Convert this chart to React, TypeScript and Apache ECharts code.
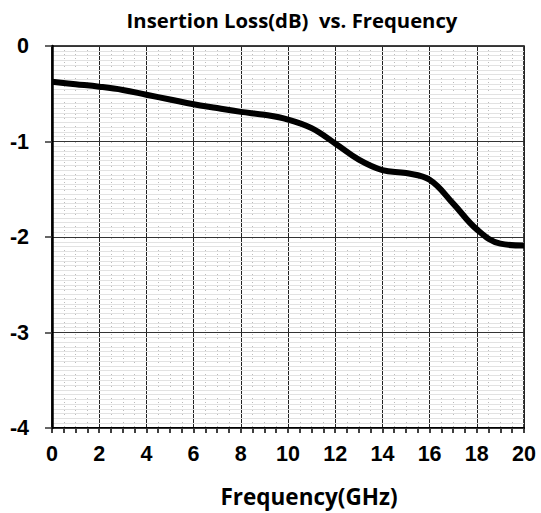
import React, { useEffect, useRef } from "react";
import * as echarts from "echarts";

const freqGHz = [0, 1, 2, 3, 4, 5, 6, 7, 8, 9, 10, 11, 12, 13, 14, 15, 16, 17, 18, 19, 20];
const lossDb = [-0.374, -0.4, -0.426, -0.46, -0.51, -0.56, -0.61, -0.65, -0.69, -0.72, -0.77, -0.86, -1.02, -1.19, -1.3, -1.33, -1.4, -1.65, -1.92, -2.07, -2.09];
const titleText = "Insertion Loss(dB)  vs. Frequency";
const xName = "Frequency(GHz)";

export default function App() {
  const ref = useRef<HTMLDivElement>(null);
  useEffect(() => {
    if (!ref.current) return;
    const chart = echarts.init(ref.current, undefined, { renderer: "svg" });
    const labelFont = {
      fontFamily: "Liberation Sans, Arial, sans-serif",
      fontWeight: "bold" as const,
      fontSize: 21.5,
      color: "#000",
    };
    chart.setOption({
      animation: false,
      backgroundColor: "#fff",
      title: {
        text: titleText,
        left: 287,
        textAlign: "center",
        top: 5,
        textStyle: { fontFamily: "Open Sans", fontWeight: "bold", fontSize: 20.3, color: "#000" },
      },
      graphic: [
        {
          type: "text",
          x: 309,
          y: 496,
          style: {
            text: xName,
            fontFamily: "Open Sans",
            fontWeight: "bold",
            fontSize: 22.5,
            fill: "#000",
            textAlign: "center",
            textVerticalAlign: "middle",
          },
        },
      ],
      grid: {
        left: 52,
        right: 17,
        top: 46,
        bottom: 85,
        show: true,
        borderColor: "#000",
        borderWidth: 1.5,
        backgroundColor: "transparent",
      },
      xAxis: {
        type: "value",
        min: 0,
        max: 20,
        interval: 2,
        axisLine: { show: true, onZero: false, lineStyle: { color: "#000", width: 2 } },
        axisTick: { show: true, length: 5, lineStyle: { color: "#000", width: 1.5 } },
        minorTick: { show: true, splitNumber: 4, length: 5, lineStyle: { color: "#000", width: 1.5 } },
        splitLine: { show: true, lineStyle: { color: "#222", width: 1 } },
        minorSplitLine: { show: true, lineStyle: { color: "#bbb", width: 1, type: [1, 3] } },
        axisLabel: { ...labelFont, margin: 15 },
      },
      yAxis: [
        {
          type: "value",
          min: -4,
          max: 0,
          interval: 1,
          z: 1,
          axisLine: { show: true, onZero: false, lineStyle: { color: "#000", width: 2.5 } },
          axisTick: { show: true, length: 7, lineStyle: { color: "#333", width: 1.5 } },
          minorTick: { show: false, splitNumber: 20 },
          splitLine: { show: true, lineStyle: { color: "#333", width: 1 } },
          minorSplitLine: { show: true, lineStyle: { color: "#e2e2e2", width: 1 } },
          axisLabel: { ...labelFont, margin: 23 },
        },
        {
          type: "value",
          min: -4,
          max: 0,
          interval: 0.1,
          z: 0,
          position: "left",
          axisLine: { show: false },
          axisTick: { show: false },
          axisLabel: { show: false },
          splitLine: { show: true, lineStyle: { color: "#bdbdbd", width: 1 } },
        },
      ],
      series: [
        {
          type: "line",
          yAxisIndex: 0,
          data: freqGHz.map((f, i) => [f, lossDb[i]]),
          smooth: 0.4,
          showSymbol: false,
          symbol: "none",
          z: 5,
          lineStyle: { color: "#000", width: 6 },
        },
      ],
    });
    return () => chart.dispose();
  }, []);
  return <div ref={ref} style={{ position: "fixed", left: 0, top: 0, width: 541, height: 513 }} />;
}
